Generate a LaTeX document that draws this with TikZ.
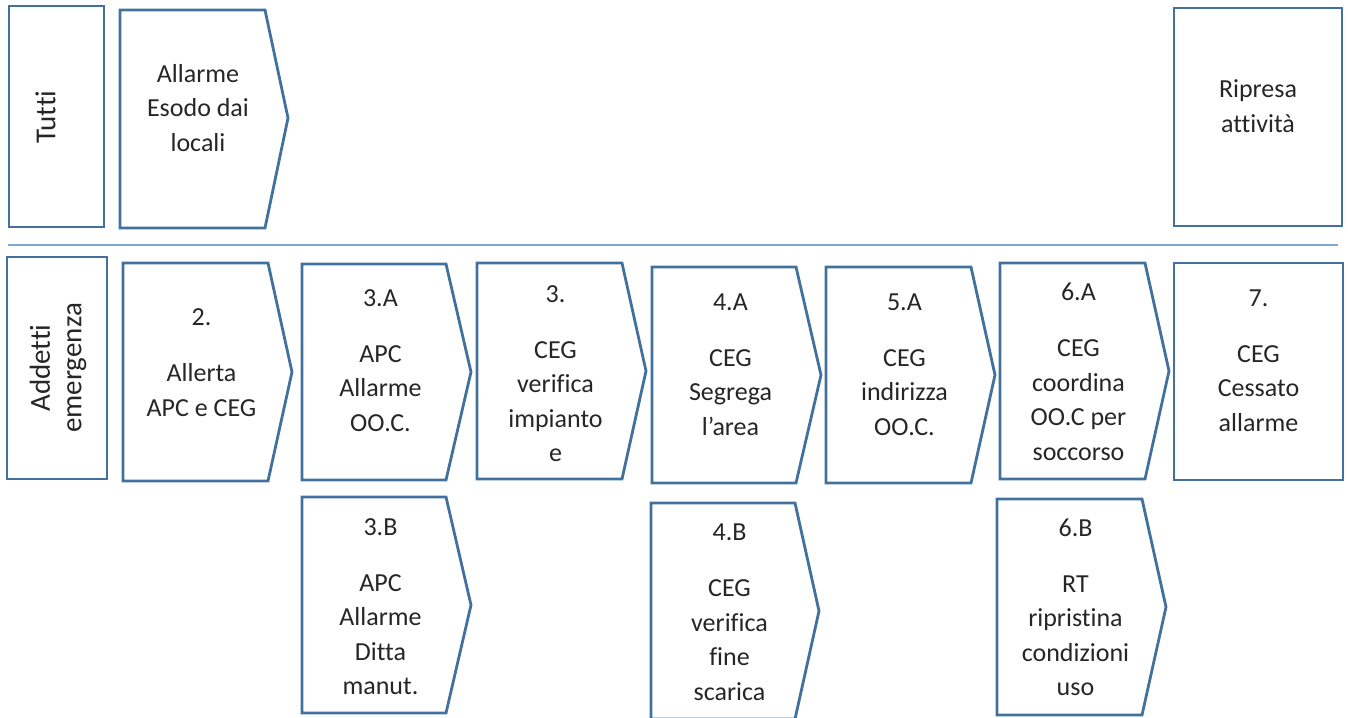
\documentclass[tikz,border=0pt]{standalone}
\usepackage{fontspec}
\setmainfont{Carlito}[Ligatures=NoCommon]
\usepackage{xcolor}
\usepackage{tikz}

\definecolor{boxblue}{HTML}{41719C}
\definecolor{sepblue}{HTML}{7FA7D2}
\definecolor{txtgray}{HTML}{262626}

\begin{document}
\begin{tikzpicture}[x=1pt,y=-1pt,
  box/.style={draw=boxblue, line width=2.8pt, line join=miter},
  lbl/.style={align=center, text=txtgray, inner sep=0pt,
    font={\fontsize{26pt}{34.5pt}\selectfont}},
  lane/.style={lbl, rotate=90, font={\fontsize{29pt}{31.5pt}\selectfont}}]
\useasboundingbox (0,0) rectangle (1348,717);
\clip (0,0) rectangle (1348,717);

% upper lane
\draw [box] (9,6) rectangle (104,227);
\node [lane] (tutti) at (45.5,117) {Tutti};
\draw [box] (120,10) -- (265,10) -- (288,118) -- (265,228) -- (120,228) -- cycle;
\node [lbl] (allarme) at (198,108) {Allarme\\Esodo dai\\locali};
\draw [box] (1174,8) rectangle (1342,226);
\node [lbl] (ripresa) at (1258,106) {Ripresa\\attività};

\draw [sepblue, line width=1.4pt] (8,245) -- (1338,245);

% lower lane
\draw [box] (7,257) rectangle (107,479);
\node [lane] (addetti) at (58,368) {Addetti\\emergenza};

\draw [box] (123,263) -- (268,263) -- (292,372) -- (268,481) -- (123,481) -- cycle;
\node [lbl] (s2) at (201.5,362.5) {2.\\[21.5pt]Allerta\\APC e CEG};
\draw [box] (302,264) -- (446,264) -- (471,372) -- (446,480) -- (302,480) -- cycle;
\node [lbl] (s3a) at (380.5,360.5) {3.A\\[21.5pt]APC\\Allarme\\OO.C.};
\draw [box] (477,263) -- (622,263) -- (646,371) -- (622,479) -- (477,479) -- cycle;
\node [lbl] (s3) at (555.5,373.5) {3.\\[21.5pt]CEG\\verifica\\impianto\\e};
\draw [box] (652,267) -- (796,267) -- (821,375) -- (796,483) -- (652,483) -- cycle;
\node [lbl] (s4a) at (730.5,364.5) {4.A\\[21.5pt]CEG\\Segrega\\l’area};
\draw [box] (826,267) -- (971,267) -- (995,375) -- (971,483) -- (826,483) -- cycle;
\node [lbl] (s5a) at (904.5,364.5) {5.A\\[21.5pt]CEG\\indirizza\\OO.C.};
\draw [box] (1000,263) -- (1145,263) -- (1169,371) -- (1145,479) -- (1000,479) -- cycle;
\node [lbl] (s6a) at (1078.5,372) {6.A\\[21.5pt]CEG\\coordina\\OO.C per\\soccorso};
\draw [box] (1174,263) rectangle (1343,480);
\node [lbl] (s7) at (1258.5,360.5) {7.\\[21.5pt]CEG\\Cessato\\allarme};

% branch B
\draw [box] (302,497) -- (446,497) -- (471,605) -- (446,713) -- (302,713) -- cycle;
\node [lbl] (s3b) at (380.5,606.5) {3.B\\[21.5pt]APC\\Allarme\\Ditta\\manut.};
\draw [box] (651,503) -- (795,503) -- (819,611) -- (795,719) -- (651,719) -- cycle;
\node [lbl] (s4b) at (729.5,612) {4.B\\[21.5pt]CEG\\verifica\\fine\\scarica};
\draw [box] (997,499) -- (1142,499) -- (1166,607) -- (1142,715) -- (997,715) -- cycle;
\node [lbl] (s6b) at (1075.5,607.5) {6.B\\[21.5pt]RT\\ripristina\\condizioni\\uso};

\end{tikzpicture}
\end{document}
